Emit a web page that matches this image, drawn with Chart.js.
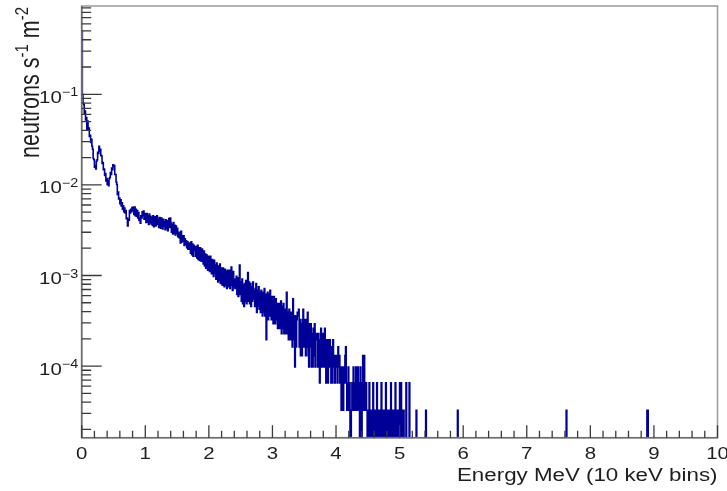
<!DOCTYPE html>
<html>
<head>
<meta charset="utf-8">
<script src="https://cdn.jsdelivr.net/npm/chart.js@4.4.1/dist/chart.umd.min.js"></script>
<style>
  html, body { margin: 0; padding: 0; background: #fff; }
  canvas { display: block; }
</style>
</head>
<body>
<canvas id="spectrum" width="727" height="491"></canvas>
<script>
// Neutron energy spectrum, 10 keV bins from 0 to 10 MeV.
const BIN_WIDTH_MEV = 0.01;
const N_BINS = 1000;
const FLUX_PER_COUNT = 3.26e-5;   // neutrons s^-1 m^-2 carried by one recorded count

// Counts per bin, one array per MeV.
const countsMeV0 = [
  15000, 3050, 2450, 2350, 1900, 2000, 1600, 1700, 1250, 1550,
  1250, 1300, 1050, 1080, 900, 980, 820, 760, 600, 580,
  480, 500, 460, 560, 580, 700, 680, 820, 720, 760,
  650, 640, 530, 540, 450, 460, 390, 410, 340, 360,
  310, 340, 300, 360, 370, 420, 400, 470, 450, 510,
  490, 500, 400, 400, 330, 310, 240, 255, 215, 220,
  190, 210, 180, 195, 165, 180, 155, 170, 150, 160,
  130, 132, 108, 128, 125, 160, 150, 165, 155, 172,
  160, 175, 145, 175, 140, 165, 138, 160, 132, 152,
  124, 132, 116, 140, 132, 155, 140, 158, 128, 148
];
const countsMeV1 = [
  145, 118, 148, 120, 140, 112, 146, 118, 138, 114,
  134, 110, 140, 106, 130, 136, 108, 128, 140, 112,
  128, 104, 134, 108, 102, 132, 112, 100, 128, 108,
  120, 98, 126, 102, 122, 96, 124, 130, 104, 132,
  116, 92, 112, 88, 118, 90, 110, 86, 108, 90,
  102, 82, 92, 80, 92, 70, 94, 72, 84, 74,
  84, 66, 78, 68, 74, 62, 72, 60, 70, 60,
  70, 54, 72, 52, 68, 50, 66, 58, 64, 50,
  64, 48, 66, 46, 62, 45, 62, 48, 44, 60,
  56, 41, 57, 39, 53, 37, 52, 40, 35, 50
];
const countsMeV2 = [
  48, 34, 50, 35, 32, 46, 34, 30, 45, 32,
  40, 28, 42, 29, 26, 39, 27, 41, 25, 37,
  36, 24, 37, 25, 23, 36, 24, 34, 22, 35,
  33, 23, 35, 22, 34, 38, 24, 21, 34, 23,
  28, 22, 26, 30, 19, 29, 18, 27, 40, 19,
  26, 16, 28, 15, 24, 14, 25, 16, 27, 15,
  24, 33, 16, 26, 15, 25, 14, 23, 16, 26,
  21, 17, 14, 22, 25, 12, 21, 14, 23, 13,
  20, 12, 21, 13, 11, 20, 12, 22, 11, 19,
  6, 18, 20, 10, 19, 11, 21, 12, 10, 18
];
const countsMeV3 = [
  17, 9, 18, 10, 9, 17, 10, 15, 8, 14,
  15, 8, 13, 16, 7, 14, 8, 15, 7, 13,
  12, 7, 20, 12, 7, 6, 13, 7, 6, 12,
  10, 5, 17, 11, 6, 3, 11, 5, 10, 12,
  11, 13, 5, 10, 4, 9, 4, 10, 13, 5,
  10, 5, 4, 10, 5, 12, 4, 3, 9, 5,
  9, 3, 7, 3, 8, 4, 9, 3, 6, 7,
  6, 3, 7, 4, 2, 6, 8, 3, 6, 7,
  3, 6, 8, 3, 2, 6, 4, 2, 6, 3,
  6, 3, 2, 5, 2, 6, 3, 4, 2, 3
];
const countsMeV4 = [
  4, 3, 2, 5, 3, 4, 2, 3, 1, 3,
  2, 1, 3, 2, 4, 5, 2, 1, 2, 3,
  1, 2, 0, 0, 1, 2, 1, 3, 2, 1,
  2, 3, 1, 2, 3, 1, 2, 0, 3, 2,
  0, 2, 4, 1, 4, 2, 1, 2, 1, 0,
  1, 0, 2, 1, 0, 1, 1, 0, 2, 1,
  0, 1, 0, 1, 2, 0, 1, 0, 1, 1,
  0, 2, 1, 0, 1, 0, 0, 1, 2, 0,
  1, 0, 1, 0, 0, 1, 2, 0, 1, 0,
  0, 1, 0, 2, 0, 1, 0, 0, 1, 0
];
// 5.00 - 5.29 MeV
const countsMeV5 = [
  2, 0, 2, 1, 0, 0, 1, 0, 0, 0,
  2, 0, 0, 0, 0, 2, 0, 0, 0, 0,
  0, 0, 0, 0, 0, 0, 1, 0, 0, 0
];
// [bin index, counts] for the lone entries above 5.3 MeV
const isolatedBins = [[541, 1], [591, 1], [762, 1], [889, 1], [890, 1]];

const xTickLabels = ['0', '1', '2', '3', '4', '5', '6', '7', '8', '9', '10'];
const yDecadeExponents = [-4, -3, -2, -1];
const Y_MIN = 1.62e-5;
const Y_MAX = 0.943;

// Assemble the histogram contents.
const counts = new Array(N_BINS).fill(0);
[countsMeV0, countsMeV1, countsMeV2, countsMeV3, countsMeV4, countsMeV5]
  .flat().forEach((c, i) => { counts[i] = c; });
isolatedBins.forEach(([i, c]) => { counts[i] = c; });

// Empty bins sit below the log axis so the outline drops out of the frame.
const BELOW_AXIS = 1e-9;
const histPoints = [];
for (let i = 0; i < N_BINS; i++) {
  const flux = counts[i] > 0 ? counts[i] * FLUX_PER_COUNT : BELOW_AXIS;
  histPoints.push({ x: i / 100, y: flux });
}
histPoints.push({ x: N_BINS * BIN_WIDTH_MEV, y: histPoints[N_BINS - 1].y });

const FONT = '"Liberation Sans", Arial, Helvetica, sans-serif';
const TEXT_COLOR = '#1e1e1e';

function wideText(ctx, text, x, y, sx, align) {
  ctx.save();
  ctx.translate(x, y);
  ctx.scale(sx, 1);
  ctx.textAlign = align;
  ctx.fillText(text, 0, 0);
  ctx.restore();
}

// Frame, inward ticks and labels drawn in the style of a ROOT canvas.
const rootAxesPlugin = {
  id: 'rootAxes',
  afterDatasetsDraw(chart) {
    const { ctx, chartArea: a, scales } = chart;
    const xs = scales.x, ys = scales.y;
    ctx.save();

    // outer frame
    ctx.strokeStyle = '#a0a0a0';
    ctx.lineWidth = 1.6;
    ctx.strokeRect(a.left, a.top, a.right - a.left, a.bottom - a.top);

    // axis lines
    ctx.strokeStyle = '#6e6e6e';
    ctx.lineWidth = 1.6;
    ctx.beginPath();
    ctx.moveTo(a.left, a.top);
    ctx.lineTo(a.left, a.bottom);
    ctx.lineTo(a.right, a.bottom);
    ctx.stroke();

    // x ticks: majors every MeV, minors every 0.2 MeV
    ctx.strokeStyle = '#3a3a3a';
    ctx.lineWidth = 1.3;
    ctx.beginPath();
    for (let k = 0; k <= 50; k++) {
      const px = xs.getPixelForValue(k / 5);
      const len = (k % 5 === 0) ? 12.5 : 7;
      ctx.moveTo(px, a.bottom);
      ctx.lineTo(px, a.bottom - len);
    }
    // y ticks: decades long, 2..9 short
    for (let d = -5; d <= 0; d++) {
      for (let m = 1; m <= 9; m++) {
        const v = m * Math.pow(10, d);
        if (v < Y_MIN || v > Y_MAX) continue;
        const py = ys.getPixelForValue(v);
        const len = m === 1 ? 20 : 9.5;
        ctx.moveTo(a.left, py);
        ctx.lineTo(a.left + len, py);
      }
    }
    ctx.stroke();

    ctx.fillStyle = TEXT_COLOR;
    ctx.textBaseline = 'alphabetic';

    // x tick labels
    ctx.font = '17px ' + FONT;
    xTickLabels.forEach((t, i) => {
      wideText(ctx, t, xs.getPixelForValue(i), a.bottom + 21.5, 1.2, 'center');
    });

    // y tick labels 10^n
    const sx = 1.2;
    yDecadeExponents.forEach(e => {
      const py = ys.getPixelForValue(Math.pow(10, e));
      const sup = '\u2212' + String(-e);
      ctx.font = '12px ' + FONT;
      const supW = ctx.measureText(sup).width * sx;
      ctx.font = '17px ' + FONT;
      const baseW = ctx.measureText('10').width * sx;
      const right = a.left - 3.5;
      wideText(ctx, '10', right - supW - baseW, py + 8.5, sx, 'left');
      ctx.font = '12px ' + FONT;
      wideText(ctx, sup, right - supW, py + 2.2, sx, 'left');
    });

    // x axis title
    ctx.font = '18px ' + FONT;
    wideText(ctx, 'Energy MeV (10 keV bins)', a.right, 481, 1.24, 'right');

    // y axis title, rotated, ending at the top of the frame
    const parts = [
      ['neutrons s', 21.5, 0],
      ['-1', 15, -8.5],
      [' m', 21.5, 0],
      ['-2', 15, -8.5]
    ];
    let total = 0;
    parts.forEach(p => { ctx.font = p[1] + 'px ' + FONT; total += ctx.measureText(p[0]).width; });
    ctx.save();
    ctx.translate(38.5, 7);
    ctx.scale(1.25, 1);
    ctx.rotate(-Math.PI / 2);
    ctx.textAlign = 'left';
    let cx = -total;
    parts.forEach(p => {
      ctx.font = p[1] + 'px ' + FONT;
      ctx.fillText(p[0], cx, p[2]);
      cx += ctx.measureText(p[0]).width;
    });
    ctx.restore();

    ctx.restore();
  }
};

new Chart(document.getElementById('spectrum').getContext('2d'), {
  type: 'line',
  data: {
    datasets: [{
      data: histPoints,
      borderColor: '#000099',
      borderWidth: 1.6,
      pointRadius: 0,
      stepped: 'before',
      fill: false,
      tension: 0,
      clip: 0
    }]
  },
  options: {
    responsive: false,
    animation: false,
    devicePixelRatio: 1,
    events: [],
    layout: { padding: { left: 81.7, right: 9.5, top: 6, bottom: 53.3 } },
    plugins: { legend: { display: false }, tooltip: { enabled: false } },
    scales: {
      x: { type: 'linear', min: 0, max: 10, display: false },
      y: { type: 'logarithmic', min: Y_MIN, max: Y_MAX, display: false }
    }
  },
  plugins: [rootAxesPlugin]
});
</script>
</body>
</html>
